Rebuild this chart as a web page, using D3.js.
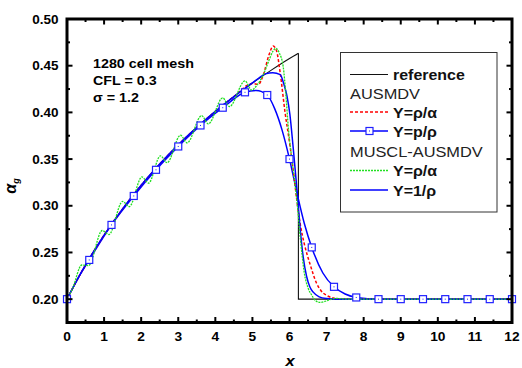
<!DOCTYPE html>
<html>
<head>
<meta charset="utf-8">
<script src="https://cdn.jsdelivr.net/npm/d3@7/dist/d3.min.js"></script>
<style>
  html, body { margin: 0; padding: 0; background: #fff; }
  svg { display: block; }
  text { font-family: "Liberation Sans", Arial, Helvetica, sans-serif; }
</style>
</head>
<body>
<svg id="chart" width="522" height="368"></svg>
<script>
// ---------------- data ----------------
const xTickValues = [0, 1, 2, 3, 4, 5, 6, 7, 8, 9, 10, 11, 12];
const yTickValues = [0.20, 0.25, 0.30, 0.35, 0.40, 0.45, 0.50];
const yTickLabels = ["0.20", "0.25", "0.30", "0.35", "0.40", "0.45", "0.50"];

// reference solution (smooth part, then the jump)
const refX = [0, 0.25, 0.5, 1.0, 1.5, 2.0, 2.5, 3.0, 3.5, 4.0, 4.5, 5.0, 5.5, 6.0, 6.24, 6.24, 12];
const refY = [0.2, 0.2189, 0.2366, 0.2685, 0.2967, 0.3219, 0.3446, 0.3652, 0.3839, 0.4011, 0.4169, 0.4315, 0.4450, 0.4577, 0.4634, 0.2, 0.2];

// AUSMDV, Y = rho/alpha (red dashed)
const ausRhoAlphaX = [0, 0.25, 0.5, 1.0, 1.5, 2.0, 2.5, 3.0, 3.5, 4.0, 4.5, 5.0, 5.16, 5.3, 5.45, 5.56, 5.65, 5.75, 5.88, 6.0, 6.12, 6.2, 6.3, 6.4, 6.55, 6.73, 6.85, 7.0, 7.15, 7.32, 12];
const ausRhoAlphaY = [0.2, 0.2189, 0.2366, 0.2685, 0.2967, 0.3219, 0.3446, 0.3652, 0.3839, 0.4011, 0.4169, 0.4310, 0.4300, 0.4410, 0.4620, 0.4710, 0.4660, 0.4420, 0.4000, 0.3680, 0.3320, 0.3050, 0.2780, 0.2590, 0.2380, 0.2170, 0.2090, 0.2040, 0.2015, 0.2, 0.2];

// AUSMDV, Y = p/rho (blue with squares)
const ausPRhoX = [0, 0.3, 0.6, 1.2, 1.8, 2.4, 3.0, 3.6, 4.2, 4.8, 5.1, 5.4, 5.6, 5.8, 6.0, 6.2, 6.4, 6.6, 6.9, 7.2, 7.5, 7.8, 8.1, 8.4, 12];
const ausPRhoY = [0.2, 0.2225, 0.2420, 0.2795, 0.3105, 0.3385, 0.3635, 0.3860, 0.4050, 0.4215, 0.4235, 0.4186, 0.4040, 0.3810, 0.3500, 0.3140, 0.2810, 0.2554, 0.2280, 0.2132, 0.2055, 0.2018, 0.2005, 0.2, 0.2];
const ausPRhoMarkX = [0, 0.6, 1.2, 1.8, 2.4, 3.0, 3.6, 4.2, 4.8, 5.4, 6.0, 6.6, 7.2, 7.8, 8.4, 9.0, 9.6, 10.2, 10.8, 11.4, 12.0];
const ausPRhoMarkY = [0.2, 0.2420, 0.2795, 0.3105, 0.3385, 0.3635, 0.3860, 0.4050, 0.4215, 0.4186, 0.3500, 0.2554, 0.2132, 0.2018, 0.2, 0.2, 0.2, 0.2, 0.2, 0.2, 0.2];

// MUSCL-AUSMDV, Y = rho/alpha (green dotted, oscillating)
const musRhoAlphaX = [0, 0.15, 0.40, 0.58, 0.95, 1.13, 1.50, 1.68, 2.02, 2.20, 2.52, 2.70, 3.06, 3.24, 3.63, 3.81, 4.20, 4.38, 4.80, 4.98, 5.12, 5.30, 5.45, 5.56, 5.64, 5.72, 5.83, 5.90, 5.97, 6.08, 6.20, 6.30, 6.40, 6.50, 6.60, 6.70, 6.82, 6.95, 7.09, 7.25, 7.45, 7.70, 12];
const musRhoAlphaY = [0.2, 0.2115, 0.2366, 0.2359, 0.2735, 0.2692, 0.3047, 0.2991, 0.3309, 0.3243, 0.3535, 0.3461, 0.3755, 0.3674, 0.3965, 0.3877, 0.4155, 0.4062, 0.4337, 0.4239, 0.4290, 0.4410, 0.4560, 0.4660, 0.4686, 0.4640, 0.4490, 0.4200, 0.3830, 0.3450, 0.3050, 0.2620, 0.2280, 0.2120, 0.2043, 0.1985, 0.1965, 0.1975, 0.1995, 0.2008, 0.2003, 0.2, 0.2];

// MUSCL-AUSMDV, Y = 1/rho (blue solid)
const musInvRhoX = [0, 0.25, 0.5, 1.0, 1.5, 2.0, 2.5, 3.0, 3.5, 4.0, 4.5, 5.0, 5.2, 5.35, 5.55, 5.75, 5.85, 5.93, 6.01, 6.10, 6.20, 6.30, 6.37, 6.46, 6.55, 6.64, 6.80, 7.00, 7.30, 12];
const musInvRhoY = [0.2, 0.2189, 0.2366, 0.2685, 0.2967, 0.3219, 0.3446, 0.3652, 0.3839, 0.4011, 0.4169, 0.4315, 0.4375, 0.4412, 0.4425, 0.4405, 0.4300, 0.4180, 0.3980, 0.3620, 0.3180, 0.2700, 0.2450, 0.2245, 0.2130, 0.2075, 0.2025, 0.2007, 0.2, 0.2];

const annotationLines = ["1280 cell mesh", "CFL = 0.3", "\u03c3 = 1.2"];

// ---------------- drawing ----------------
const svg = d3.select("#chart");

const x = d3.scaleLinear().domain([0, 12]).range([67, 512]);
const y = d3.scaleLinear().domain([0.175, 0.5]).range([322.5, 19]);

function stretchedText(parent, px, py, str, opts) {
  const o = Object.assign({size: 12, weight: "normal", anchor: "start", sx: 1.1, style: "normal", fill: "#000"}, opts || {});
  return parent.append("text")
    .attr("transform", `translate(${px},${py}) scale(${o.sx},1)`)
    .attr("text-anchor", o.anchor)
    .attr("font-size", o.size)
    .attr("font-weight", o.weight)
    .attr("font-style", o.style)
    .attr("fill", o.fill)
    .text(str);
}

const pts = (xs, ys) => xs.map((v, i) => [v, ys[i]]);
const lineMono = d3.line().x(d => x(d[0])).y(d => y(d[1])).curve(d3.curveMonotoneX);
const lineLin = d3.line().x(d => x(d[0])).y(d => y(d[1]));

svg.append("clipPath").attr("id", "clip")
  .append("rect").attr("x", 67).attr("y", 19).attr("width", 445).attr("height", 303.5);
const plot = svg.append("g").attr("clip-path", "url(#clip)");

// reference: smooth rise then jump
const refPts = pts(refX, refY);
const jumpIdx = refX.findIndex((v, i) => i > 0 && v === refX[i - 1]);
plot.append("path").attr("d", lineMono(refPts.slice(0, jumpIdx)))
  .attr("fill", "none").attr("stroke", "#111").attr("stroke-width", 1.1);
plot.append("path").attr("d", lineLin(refPts.slice(jumpIdx - 1)))
  .attr("fill", "none").attr("stroke", "#111").attr("stroke-width", 1.1);

// AUSMDV p/rho (blue with squares)
plot.append("path").attr("d", lineMono(pts(ausPRhoX, ausPRhoY)))
  .attr("fill", "none").attr("stroke", "#0000ff").attr("stroke-width", 1.5);

// AUSMDV rho/alpha red dashed
plot.append("path").attr("d", lineMono(pts(ausRhoAlphaX, ausRhoAlphaY)))
  .attr("fill", "none").attr("stroke", "#ff0000").attr("stroke-width", 1.5)
  .attr("stroke-dasharray", "3,2");

// MUSCL 1/rho blue
plot.append("path").attr("d", lineMono(pts(musInvRhoX, musInvRhoY)))
  .attr("fill", "none").attr("stroke", "#0000ff").attr("stroke-width", 1.5);

// MUSCL rho/alpha green dotted
plot.append("path").attr("d", lineMono(pts(musRhoAlphaX, musRhoAlphaY)))
  .attr("fill", "none").attr("stroke", "#22e022").attr("stroke-width", 1.3)
  .attr("stroke-dasharray", "2,1");

// squares
function square(g, cx, cy) {
  g.append("rect").attr("x", cx - 3.5).attr("y", cy - 3.5).attr("width", 7).attr("height", 7)
    .attr("fill", "#fff").attr("stroke", "#2020ff").attr("stroke-width", 1.2);
  g.append("rect").attr("x", cx - 0.5).attr("y", cy - 0.5).attr("width", 1).attr("height", 1)
    .attr("fill", "#2020ff");
}
const sqG = svg.append("g");
ausPRhoMarkX.forEach((v, i) => square(sqG, x(v), y(ausPRhoMarkY[i])));

// ticks (inward on all four sides)
const xMinor = d3.range(0.5, 12, 1);
const yMinor = d3.range(0.175, 0.5001, 0.05).map(v => +v.toFixed(3));
const axG = svg.append("g").attr("stroke", "#000").attr("stroke-width", 2);
xTickValues.forEach(v => {
  axG.append("line").attr("x1", x(v)).attr("x2", x(v)).attr("y1", y(0.175)).attr("y2", y(0.175) - 5.5);
  axG.append("line").attr("x1", x(v)).attr("x2", x(v)).attr("y1", y(0.5)).attr("y2", y(0.5) + 5.5);
});
xMinor.forEach(v => {
  axG.append("line").attr("x1", x(v)).attr("x2", x(v)).attr("y1", y(0.175)).attr("y2", y(0.175) - 3);
  axG.append("line").attr("x1", x(v)).attr("x2", x(v)).attr("y1", y(0.5)).attr("y2", y(0.5) + 3);
});
yTickValues.forEach(v => {
  axG.append("line").attr("x1", x(0)).attr("x2", x(0) + 5.5).attr("y1", y(v)).attr("y2", y(v));
  axG.append("line").attr("x1", x(12)).attr("x2", x(12) - 5.5).attr("y1", y(v)).attr("y2", y(v));
});
yMinor.forEach(v => {
  axG.append("line").attr("x1", x(0)).attr("x2", x(0) + 3).attr("y1", y(v)).attr("y2", y(v));
  axG.append("line").attr("x1", x(12)).attr("x2", x(12) - 3).attr("y1", y(v)).attr("y2", y(v));
});

// frame
svg.append("rect").attr("x", x(0)).attr("y", y(0.5)).attr("width", x(12) - x(0)).attr("height", y(0.175) - y(0.5))
  .attr("fill", "none").attr("stroke", "#000").attr("stroke-width", 3);

// tick labels
xTickValues.forEach(v => stretchedText(svg, x(v), 341, String(v), {size: 12.5, weight: "bold", anchor: "middle", sx: 1.1}));
yTickValues.forEach((v, i) => stretchedText(svg, 58.5, y(v) + 4.5, yTickLabels[i], {size: 12.5, weight: "bold", anchor: "end", sx: 1.08}));

// axis titles
stretchedText(svg, 290, 366, "x", {size: 15, weight: "bold", style: "italic", anchor: "middle", sx: 1.1});
const yt = svg.append("text")
  .attr("transform", "translate(15.5,186) rotate(-90)")
  .attr("text-anchor", "middle")
  .attr("font-size", 16).attr("font-weight", "bold").attr("font-style", "italic");
yt.append("tspan").text("\u03b1");
yt.append("tspan").attr("font-size", 9).attr("dy", 3).attr("font-style", "italic").text("g");

// annotation
annotationLines.forEach((s, i) => stretchedText(svg, 93, 67.5 + i * 17, s, {size: 13, weight: "bold", sx: 1.1}));

// legend
const lg = svg.append("g");
lg.append("rect").attr("x", 340.5).attr("y", 52.5).attr("width", 156.5).attr("height", 159.5)
  .attr("fill", "#fff").attr("stroke", "#333").attr("stroke-width", 1);
const legendItems = [
  {label: "reference", base: 80, line: {stroke: "#111", width: 1.1}},
  {label: "AUSMDV", base: 99, header: true},
  {label: "Y=\u03c1/\u03b1", base: 117.5, line: {stroke: "#ff0000", width: 1.5, dash: "3,2"}},
  {label: "Y=p/\u03c1", base: 136.5, line: {stroke: "#0000ff", width: 1.5}, marker: true},
  {label: "MUSCL-AUSMDV", base: 156.5, header: true},
  {label: "Y=\u03c1/\u03b1", base: 176, line: {stroke: "#22e022", width: 1.3, dash: "2,1"}},
  {label: "Y=1/\u03c1", base: 195.5, line: {stroke: "#0000ff", width: 1.5}}
];
legendItems.forEach(it => {
  if (it.header) {
    stretchedText(lg, 350, it.base, it.label, {size: 14, weight: "normal", sx: 1.17, fill: "#222"});
  } else {
    const ly = it.base - 5.5;
    lg.append("line").attr("x1", 350).attr("x2", 388).attr("y1", ly).attr("y2", ly)
      .attr("stroke", it.line.stroke).attr("stroke-width", it.line.width)
      .attr("stroke-dasharray", it.line.dash || null);
    if (it.marker) square(lg, 369.5, ly);
    stretchedText(lg, 393, it.base, it.label, {size: 14, weight: "bold", sx: 1.14, fill: "#111"});
  }
});
</script>
</body>
</html>
